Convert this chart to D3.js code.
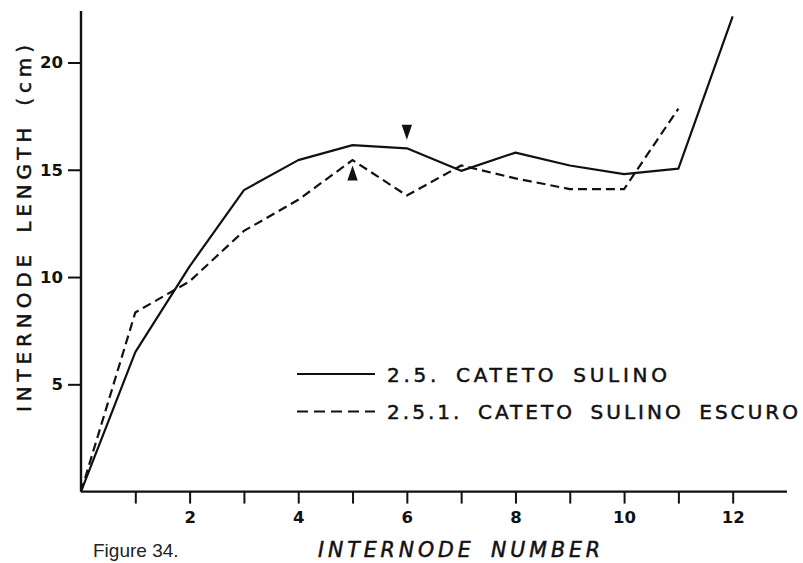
<!DOCTYPE html>
<html>
<head>
<meta charset="utf-8">
<script src="https://cdn.jsdelivr.net/npm/d3@7"></script>
<style>
body { margin:0; background:#fff; }
svg { display:block; }
.lbl { font-family:"DejaVu Sans", sans-serif; fill:#111; stroke:#111; stroke-width:0.5px; word-spacing:6px; }
.tick text { font-family:"DejaVu Sans", sans-serif; font-weight:bold; fill:#111; }
</style>
</head>
<body>
<svg id="chart"></svg>
<script>
// internode number vs length (cm)
var internodes = [0,1,2,3,4,5,6,7,8,9,10,11,12];
var sulino = [0, 6.5, 10.5, 14.05, 15.45, 16.15, 16.0, 14.95, 15.8, 15.2, 14.8, 15.05, 22.15];
var escuro = [0, 8.35, 9.8, 12.15, 13.6, 15.45, 13.8, 15.2, 14.6, 14.1, 14.1, 17.85];
var seriesNames = ["2.5. CATETO SULINO", "2.5.1. CATETO SULINO ESCURO"];
var xTicks = [1,2,3,4,5,6,7,8,9,10,11,12];
var yTicks = [5,10,15,20];
// arrow markers: [internode, length, direction]
var arrows = [[5, 14.85, "up"], [6, 16.75, "down"]];

var screen = {width:803, height:563};
var margins = {top:11, left:81, right:16, bottom:71.4};
var graph = {width:screen.width-margins.left-margins.right, height:screen.height-margins.top-margins.bottom};

var svg = d3.select("#chart")
    .attr("width", screen.width)
    .attr("height", screen.height);

var xScale = d3.scaleLinear()
    .domain([0,13])
    .range([0, graph.width]);
var yScale = d3.scaleLinear()
    .domain([0,22.4])
    .range([graph.height, 0]);

var g = svg.append("g")
    .attr("transform","translate("+margins.left+","+margins.top+")");

//axes
var xAxis = d3.axisBottom(xScale)
    .tickValues(xTicks)
    .tickSize(12)
    .tickPadding(8)
    .tickFormat(function(d){ return d%2==0 ? d : ""; });
var yAxis = d3.axisLeft(yScale)
    .tickValues(yTicks)
    .tickSize(13)
    .tickPadding(5);

var xg = g.append("g")
    .attr("transform","translate(0,"+graph.height+")")
    .call(xAxis);
var yg = g.append("g").call(yAxis);

[xg, yg].forEach(function(a){
    a.select(".domain").attr("stroke","#111").attr("stroke-width",2.4);
    a.selectAll(".tick line").attr("stroke","#111").attr("stroke-width",2);
    a.selectAll(".tick text").style("font-size","16.5px");
});
xg.select(".domain").attr("d","M0,0H"+graph.width);
yg.select(".domain").attr("d","M0,"+graph.height+"V0");

//lines
var linegen = d3.line()
    .x(function(d,i){ return xScale(internodes[i]); })
    .y(function(d){ return yScale(d); });

g.append("path")
    .attr("d", linegen(sulino))
    .attr("fill","none")
    .attr("stroke","#111")
    .attr("stroke-width",2.2)
    .attr("stroke-linejoin","round");
g.append("path")
    .attr("d", linegen(escuro))
    .attr("fill","none")
    .attr("stroke","#111")
    .attr("stroke-width",2.2)
    .attr("stroke-dasharray","9,5");

//arrow triangles
g.selectAll(".arrow")
    .data(arrows)
    .enter()
    .append("path")
    .attr("class","arrow")
    .attr("fill","#111")
    .attr("transform", function(d){
        return "translate("+xScale(d[0])+","+yScale(d[1])+")";
    })
    .attr("d", function(d){
        return d[2]=="up" ? "M0,-7.5L5.2,7.5L-5.2,7.5Z" : "M0,7.5L5.2,-7.5L-5.2,-7.5Z";
    });

//legend
var legend = svg.append("g");
var legendY = [374, 411.5];
legend.selectAll("line")
    .data(seriesNames)
    .enter()
    .append("line")
    .attr("x1",297).attr("x2",375)
    .attr("y1",function(d,i){ return legendY[i]; })
    .attr("y2",function(d,i){ return legendY[i]; })
    .attr("stroke","#111")
    .attr("stroke-width",2)
    .attr("stroke-dasharray",function(d,i){ return i==0 ? null : "11,6"; });
var legendLen = [280, 411];
legend.selectAll("text")
    .data(seriesNames)
    .enter()
    .append("text")
    .attr("class","lbl")
    .attr("x",387)
    .attr("y",function(d,i){ return legendY[i]+7.5; })
    .attr("textLength",function(d,i){ return legendLen[i]; })
    .attr("lengthAdjust","spacing")
    .style("font-size","20px")
    .text(function(d){ return d; });

//axis titles
svg.append("text")
    .attr("class","lbl")
    .attr("x",318)
    .attr("y",557)
    .attr("textLength",282)
    .attr("lengthAdjust","spacing")
    .style("font-size","20.5px")
    .style("font-style","italic")
    .text("INTERNODE NUMBER");
svg.append("text")
    .attr("class","lbl")
    .attr("transform","translate(30.5,412) rotate(-90)")
    .attr("textLength",367)
    .attr("lengthAdjust","spacing")
    .style("font-size","20px")
    .text("INTERNODE LENGTH (cm)");

svg.append("text")
    .attr("x",93)
    .attr("y",557)
    .style("font-family","'Liberation Sans', Arial, sans-serif")
    .style("font-size","19px")
    .attr("fill","#222")
    .text("Figure 34.");
</script>
</body>
</html>
